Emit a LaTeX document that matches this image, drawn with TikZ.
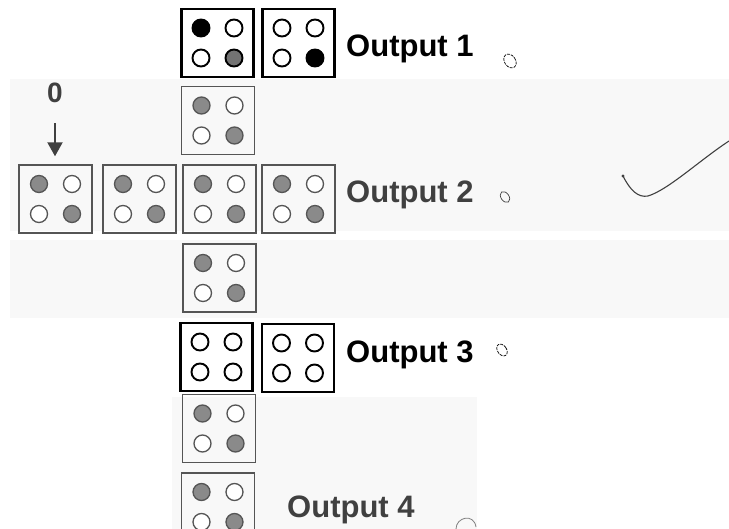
\documentclass[tikz,border=0pt]{standalone}
\usepackage{fontspec}
\setmainfont{Liberation Sans}
\usetikzlibrary{arrows.meta,calc}
\definecolor{band}{RGB}{248,248,248}
\definecolor{ink}{RGB}{64,64,64}
\definecolor{dotfill}{RGB}{138,138,138}
\definecolor{gline}{RGB}{85,85,85}
\tikzset{
  pics/cell/.style n args={5}{code={
    \node[#1] (-box) at (0,0) {};
    \path[#2] (-16.5,-15) circle[radius=8.5];
    \path[#3] (16.5,-15) circle[radius=8.5];
    \path[#4] (-16.5,15) circle[radius=8.5];
    \path[#5] (16.5,15) circle[radius=8.5];
  }}
}
\begin{document}
\begin{tikzpicture}[x=1pt,y=-1pt,
  gbox/.style={draw=gline, line width=1.4pt, minimum width=73pt, minimum height=68pt, inner sep=0pt},
  bbox/.style={draw=black, line width=2.7pt, minimum width=72pt, minimum height=68pt, inner sep=0pt},
  gon/.style={draw=gline, line width=1.3pt, fill=dotfill},
  goff/.style={draw=gline, line width=1.3pt, fill=white},
  bon/.style={draw=black, line width=1.9pt, fill=black},
  bhalf/.style={draw=black, line width=1.9pt, fill=black!55},
  boff/.style={draw=black, line width=1.9pt, fill=white},
  lab/.style={font=\bfseries\fontsize{31}{31}\selectfont, inner sep=0pt, anchor=base west},
  scribble/.style={draw=black, line width=0.7pt, dash pattern=on 3pt off 1pt}
]
\useasboundingbox (0,0) rectangle (729,529);
\clip (0,0) rectangle (729,529);
\fill[white] (0,0) rectangle (729,529);
% background bands
\fill[band] (10,79) rectangle (729,231);
\fill[band] (10,240) rectangle (729,318);
\fill[band] (172,397) rectangle (477,529);

% Output 1 row
\pic (o1a) at (217.5,43) {cell={bbox}{bon}{boff}{boff}{bhalf}};
\pic (o1b) at (298.5,43) {cell={bbox}{boff}{boff}{boff}{bon}};
% Output 2 cross
\pic (t) at (218,120.5) {cell={gbox}{gon}{goff}{goff}{gon}};
\pic (m1) at (55.5,199) {cell={gbox}{gon}{goff}{goff}{gon}};
\pic (m2) at (139.5,199) {cell={gbox}{gon}{goff}{goff}{gon}};
\pic (m3) at (219.5,199) {cell={gbox}{gon}{goff}{goff}{gon}};
\pic (m4) at (298.5,199) {cell={gbox}{gon}{goff}{goff}{gon}};
\pic (d) at (219.5,278) {cell={gbox}{gon}{goff}{goff}{gon}};
% Output 3 row
\pic (o3a) at (216.5,357) {cell={bbox}{boff}{boff}{boff}{boff}};
\pic (o3b) at (298,358) {cell={bbox}{boff}{boff}{boff}{boff}};
% lower column
\pic (e) at (219,428.5) {cell={gbox}{gon}{goff}{goff}{gon}};
\pic (f) at (218,507) {cell={gbox}{gon}{goff}{goff}{gon}};

% labels
\node[lab] (l1) at (346,57) {Output 1};
\node[lab, text=ink] (l2) at (346,203) {Output 2};
\node[lab] (l3) at (346,363) {Output 3};
\node[lab, text=ink] (l4) at (287,518) {Output 4};

% zero and arrow
\node[font=\bfseries\fontsize{28}{28}\selectfont, text=ink, inner sep=0pt, anchor=base] (zero) at (55,103) {0};
\draw[ink, line width=2pt, -{Triangle[width=15pt,length=14pt]}, shorten <=20pt, shorten >=8pt]
  (zero.south) -- (zero.south |- m1-box.north);

% small scribbled marks
\draw[scribble, rotate around={35:(510,61)}] (510,61) ellipse [x radius=5.5, y radius=7.5];
\draw[draw=ink, line width=0.7pt, rotate around={35:(505,197)}] (505,197) ellipse [x radius=4, y radius=6];
\draw[scribble, rotate around={35:(502,350)}] (502,350) ellipse [x radius=4.5, y radius=6.5];
\draw[draw=gray, line width=0.8pt] (456,529) .. controls (456,517) and (474,513) .. (476,527);

% check mark
\fill[ink] (623,176) circle[radius=1.6];
\draw[ink, line width=1.1pt] (623,176) .. controls (630,190) and (638,198) .. (648,196) .. controls (668,190) and (700,160) .. (729,141);
\end{tikzpicture}
\end{document}
